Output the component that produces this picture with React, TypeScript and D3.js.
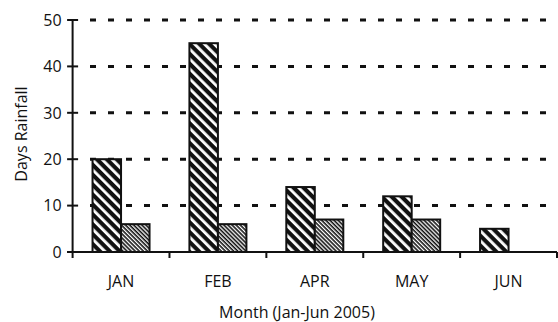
import React from "react";
import * as d3 from "d3";

const months = ["JAN", "FEB", "APR", "MAY", "JUN"];
const seriesA = [20, 45, 14, 12, 5];
const seriesB = [6, 6, 7, 7, 0];
const yTicks = [0, 10, 20, 30, 40, 50];
const gridValues = [10, 20, 30, 40, 50];

const W = 558;
const H = 322;
const FONT = "'Open Sans', 'Noto Sans', sans-serif";

export default function App() {
  const left = 72.6;
  const right = 557;
  const top = 20;
  const bottom = 252;

  const x = d3.scaleBand<string>().domain(months).range([left, right]).paddingInner(0).paddingOuter(0);
  const y = d3.scaleLinear().domain([0, 50]).range([bottom, top]);
  const inner = d3.scaleBand<string>().domain(["a", "b"]).range([0, 57]);
  const groupOffset = (x.bandwidth() - 57) / 2;

  const barsA = months.map((m, i) => ({ m, v: seriesA[i] }));
  const barsB = months.map((m, i) => ({ m, v: seriesB[i] })).filter((d) => d.v > 0);

  const boundaries = months.map((m) => (x(m) as number) + x.bandwidth());

  return (
    <svg width={W} height={H} style={{ position: "absolute", left: 0, top: 0, background: "#fff" }}>
      <defs>
        <pattern id="wide" patternUnits="userSpaceOnUse" width={7} height={7} patternTransform="rotate(-45)">
          <rect width={7} height={7} fill="#111" />
          <rect x={0} width={2.8} height={7} fill="#fff" />
        </pattern>
        <pattern id="fine" patternUnits="userSpaceOnUse" width={2.9} height={2.9} patternTransform="rotate(-45)">
          <rect width={2.9} height={2.9} fill="#111" />
          <rect x={0} width={1.3} height={2.9} fill="#fff" />
        </pattern>
      </defs>

      {/* dashed gridlines */}
      {gridValues.map((v) => (
        <line
          key={v}
          x1={90}
          x2={right}
          y1={y(v)}
          y2={y(v)}
          stroke="#111"
          strokeWidth={3}
          strokeDasharray="6,12"
        />
      ))}

      {/* bars */}
      {barsA.map((d) => (
        <rect
          key={"a" + d.m}
          x={(x(d.m) as number) + groupOffset + (inner("a") as number)}
          y={y(d.v)}
          width={inner.bandwidth()}
          height={bottom - y(d.v)}
          fill="url(#wide)"
          stroke="#111"
          strokeWidth={2}
        />
      ))}
      {barsB.map((d) => (
        <rect
          key={"b" + d.m}
          x={(x(d.m) as number) + groupOffset + (inner("b") as number)}
          y={y(d.v)}
          width={inner.bandwidth()}
          height={bottom - y(d.v)}
          fill="url(#fine)"
          stroke="#111"
          strokeWidth={2}
        />
      ))}

      {/* y axis */}
      <line x1={left} x2={left} y1={top} y2={bottom + 6} stroke="#111" strokeWidth={2} />
      {yTicks.map((t) => (
        <g key={t}>
          <line x1={left - 5.5} x2={left + 5.5} y1={y(t)} y2={y(t)} stroke="#111" strokeWidth={2} />
          <text
            x={left - 11}
            y={y(t)}
            dy="0.36em"
            textAnchor="end"
            fontFamily={FONT}
            fontSize={16}
            fill="#111"
          >
            {t}
          </text>
        </g>
      ))}

      {/* x axis */}
      <line x1={left - 5.5} x2={right} y1={bottom} y2={bottom} stroke="#111" strokeWidth={2} />
      {boundaries.map((b, i) => (
        <line key={i} x1={b} x2={b} y1={bottom} y2={bottom + 6} stroke="#111" strokeWidth={2} />
      ))}
      {months.map((m) => (
        <text
          key={m}
          x={(x(m) as number) + x.bandwidth() / 2}
          y={287}
          textAnchor="middle"
          fontFamily={FONT}
          fontSize={16}
          fill="#111"
        >
          {m}
        </text>
      ))}

      {/* axis titles */}
      <text x={297} y={318} textAnchor="middle" fontFamily={FONT} fontSize={16} fill="#111">
        Month (Jan-Jun 2005)
      </text>
      <text
        transform={`translate(27,134) rotate(-90)`}
        textAnchor="middle"
        fontFamily={FONT}
        fontSize={16}
        fill="#111"
      >
        Days Rainfall
      </text>
    </svg>
  );
}
